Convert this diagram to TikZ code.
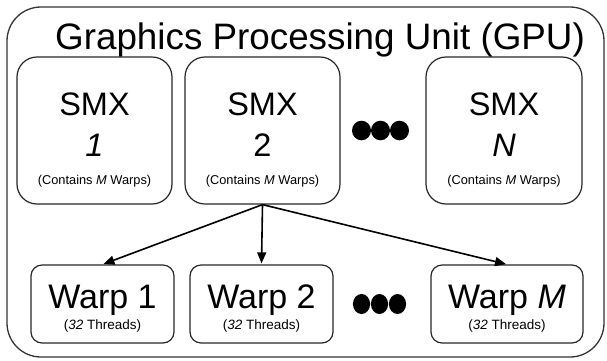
\documentclass[tikz,border=0pt]{standalone}
\usepackage{fontspec}
\setmainfont{Liberation Sans}
\usetikzlibrary{arrows.meta}

\tikzset{
  frame/.style={draw=black!80, line width=1.3pt, rounded corners=34pt},
  smxbox/.style={draw=black!85, line width=1.2pt, rounded corners=20pt},
  warpbox/.style={draw=black!85, line width=1.2pt, rounded corners=11pt},
  txt/.style={inner sep=0pt, anchor=base},
  link/.style={draw=black, line width=1.6pt, -{Triangle[length=11pt,width=9pt]}, shorten >=1pt},
  dot/.style={fill=black, draw=none}
}

\begin{document}
\begin{tikzpicture}[x=1pt, y=-1pt]
  \useasboundingbox (0,0) rectangle (607,360);

  % outer GPU frame and title
  \draw[frame] (7,7) rectangle (604,357);
  \node[txt, font=\fontsize{36.8}{39}\selectfont] (title) at (320,49) {Graphics Processing Unit (GPU)};

  % streaming multiprocessors
  \node[smxbox, minimum width=155pt, minimum height=147pt] (smx1) at (94.5,130.5) {};
  \node[smxbox, minimum width=155pt, minimum height=147pt] (smx2) at (262.5,130.5) {};
  \node[smxbox, minimum width=156pt, minimum height=147pt] (smxn) at (504,130.5) {};

  \foreach \b/\n in {smx1/\textit{1}, smx2/2, smxn/\textit{N}} {
    \node[txt, font=\fontsize{32.5}{34}\selectfont] at ([yshift=15.5pt]\b.center) {SMX};
    \node[txt, font=\fontsize{32.5}{34}\selectfont] at ([yshift=-25.5pt]\b.center) {\n};
    \node[txt, font=\fontsize{12.8}{14}\selectfont] at ([yshift=-54pt]\b.center) {(Contains \textit{M} Warps)};
  }

  % ellipsis between SMX 2 and SMX N
  \foreach \cx in {361.5,380.5,399.5}
    \fill[dot] (\cx,130.5) ellipse (9.5pt and 9.8pt);

  % warps
  \node[warpbox, minimum width=143pt, minimum height=78pt] (warp1) at (102.5,304) {};
  \node[warpbox, minimum width=143pt, minimum height=78pt] (warp2) at (261.5,304) {};
  \node[warpbox, minimum width=152pt, minimum height=78pt] (warpm) at (507,304) {};

  \foreach \b/\n in {warp1/1, warp2/2, warpm/\textit{M}} {
    \node[txt, font=\fontsize{34}{36}\selectfont] at ([yshift=-4pt]\b.center) {Warp \n};
    \node[txt, font=\fontsize{13.5}{15}\selectfont] at ([yshift=-25pt]\b.center) {(\textit{32} Threads)};
  }

  % ellipsis between Warp 2 and Warp M
  \foreach \cx in {361.5,379.5,397.5}
    \fill[dot] (\cx,304) ellipse (8.6pt and 10pt);

  % SMX 2 fans out into its warps
  \draw[link] (smx2.south) -- (warp1.north);
  \draw[link] (smx2.south) -- (warp2.north);
  \draw[link] (smx2.south) -- (warpm.north);
\end{tikzpicture}
\end{document}
